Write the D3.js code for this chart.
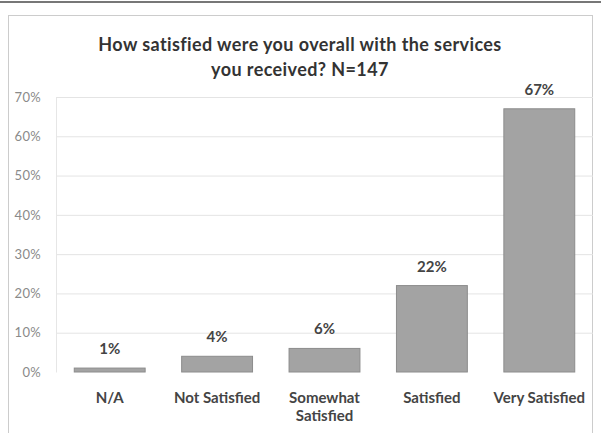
<!DOCTYPE html>
<html>
<head>
<meta charset="utf-8">
<script src="https://cdn.jsdelivr.net/npm/d3@7"></script>
<style>
  body { margin: 0; background: #fff; }
  svg { display: block; }
</style>
</head>
<body>
<svg id="chart"></svg>
<script>
// --- DATA ---
const categories = ["N/A", "Not Satisfied", "Somewhat Satisfied", "Satisfied", "Very Satisfied"];
const values = [1, 4, 6, 22, 67];
const tickValues = [0, 10, 20, 30, 40, 50, 60, 70];
const titleLines = ["How satisfied were you overall with the services", "you received? N=147"];

const width = 601, height = 433;
const margin = { top: 97, right: 8, bottom: 61, left: 56 };
const font = "Lato, sans-serif";

const svg = d3.select("#chart").attr("width", width).attr("height", height);

// frame (scan edges)
svg.append("line").attr("x1", 0).attr("x2", width).attr("y1", 2).attr("y2", 2)
    .attr("stroke", "#777").attr("stroke-width", 2);
svg.append("rect").attr("x", 8.5).attr("y", 15.5).attr("width", 584).attr("height", 430)
    .attr("fill", "none").attr("stroke", "#ccc");

// --- SCALES ---
const x = d3.scaleBand().domain(categories)
    .range([margin.left, width - margin.right]).paddingInner(0.34).paddingOuter(0.17);
const y = d3.scaleLinear().domain([0, 70]).range([height - margin.bottom, margin.top]);

// gridlines
svg.append("g")
    .selectAll("line").data(tickValues.filter(d => d > 0)).join("line")
    .attr("x1", margin.left).attr("x2", width - margin.right)
    .attr("y1", d => y(d) + 0.5).attr("y2", d => y(d) + 0.5)
    .attr("stroke", "#e4e4e4");

// y axis
const yAxis = svg.append("g").attr("transform", `translate(${margin.left},0)`)
    .call(d3.axisLeft(y).tickValues(tickValues).tickFormat(d => d + "%").tickSize(0).tickPadding(15));
yAxis.select(".domain").attr("stroke", "#e6e6e6");
yAxis.selectAll("text").attr("fill", "#8a8a8a").style("font-family", font)
    .style("font-size", "13px").style("letter-spacing", "0.3px");

// --- BARS ---
svg.append("g").selectAll("rect").data(values).join("rect")
    .attr("x", (d, i) => x(categories[i]))
    .attr("y", d => y(d))
    .attr("width", x.bandwidth())
    .attr("height", d => y(0) - y(d))
    .attr("fill", "#a3a3a3").attr("stroke", "#8c8c8c").attr("stroke-width", 1);

// value labels
svg.append("g").selectAll("text").data(values).join("text")
    .attr("x", (d, i) => x(categories[i]) + x.bandwidth() / 2)
    .attr("y", d => y(d) - 14)
    .attr("text-anchor", "middle")
    .attr("fill", "#444").style("font-family", font)
    .style("font-size", "15px").style("font-weight", "bold")
    .text(d => d + "%");

// x axis labels (wrap the long one)
const xLabels = svg.append("g").selectAll("text").data(categories).join("text")
    .attr("x", d => x(d) + x.bandwidth() / 2)
    .attr("y", 403)
    .attr("text-anchor", "middle")
    .attr("fill", "#444").style("font-family", font)
    .style("font-size", "15px").style("font-weight", "bold");
xLabels.each(function(d) {
    const parts = d === "Somewhat Satisfied" ? ["Somewhat", "Satisfied"] : [d];
    d3.select(this).selectAll("tspan").data(parts).join("tspan")
        .attr("x", x(d) + x.bandwidth() / 2)
        .attr("dy", (p, i) => i === 0 ? 0 : 18)
        .text(p => p);
});

// title
svg.append("g").selectAll("text").data(titleLines).join("text")
    .attr("x", 300).attr("y", (d, i) => 51 + i * 25)
    .attr("text-anchor", "middle")
    .attr("fill", "#333").style("font-family", font)
    .style("font-size", "18px").style("font-weight", "bold").style("letter-spacing", "0.4px")
    .text(d => d);
</script>
</body>
</html>
